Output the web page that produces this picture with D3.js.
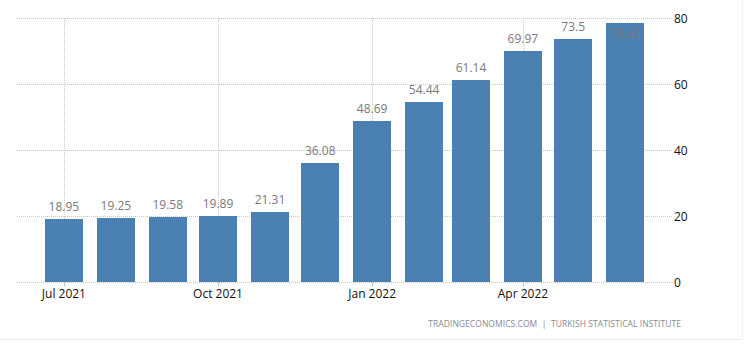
<!DOCTYPE html>
<html>
<head>
<meta charset="utf-8">
<script src="https://cdn.jsdelivr.net/npm/d3@7"></script>
<style>
  body { margin: 0; background: #fff; }
  svg { display: block; }
</style>
</head>
<body>
<svg id="chart"></svg>
<script>
// monthly values, Jul 2021 - Jun 2022
const months = ["2021-07", "2021-08", "2021-09", "2021-10", "2021-11", "2021-12",
                "2022-01", "2022-02", "2022-03", "2022-04", "2022-05", "2022-06"];
const values = [18.95, 19.25, 19.58, 19.89, 21.31, 36.08, 48.69, 54.44, 61.14, 69.97, 73.5, 78.62];
const labels = ["18.95", "19.25", "19.58", "19.89", "21.31", "36.08", "48.69", "54.44", "61.14", "69.97", "73.5", "78.62"];
const yTicks = [0, 20, 40, 60, 80];
const xTicks = ["2021-07", "2021-10", "2022-01", "2022-04"];
const source = "TRADINGECONOMICS.COM  |  TURKISH STATISTICAL INSTITUTE";

const width = 747, height = 351;
const parse = d3.timeParse("%Y-%m");
const data = months.map((m, i) => ({ date: parse(m), value: values[i], label: labels[i] }));

const svg = d3.select("#chart")
    .attr("width", width)
    .attr("height", height);

const x = d3.scaleTime()
    .domain([d3.timeDay.offset(data[0].date, -28), d3.timeDay.offset(data[data.length - 1].date, 28)])
    .range([17, 672]);

const y = d3.scaleLinear()
    .domain([0, 80])
    .range([282, 18]);

const barW = 38;
const font = "'Open Sans', 'DejaVu Sans', sans-serif";

// frame lines
svg.append("line")
    .attr("x1", 0).attr("x2", 742).attr("y1", 339.5).attr("y2", 339.5)
    .attr("stroke", "#eeeeee");
svg.append("line")
    .attr("x1", 742.5).attr("x2", 742.5).attr("y1", 0).attr("y2", 339.5)
    .attr("stroke", "#f2f2f2");

// horizontal grid
svg.append("g").selectAll("line")
    .data(yTicks)
    .enter().append("line")
    .attr("x1", 17).attr("x2", 672)
    .attr("y1", d => Math.round(y(d)) + 0.5)
    .attr("y2", d => Math.round(y(d)) + 0.5)
    .attr("stroke", "#c8c8c8")
    .attr("stroke-dasharray", "1,1");

// vertical grid
svg.append("g").selectAll("line")
    .data(xTicks.map(parse))
    .enter().append("line")
    .attr("x1", d => Math.round(x(d)) + 0.5)
    .attr("x2", d => Math.round(x(d)) + 0.5)
    .attr("y1", y(80)).attr("y2", y(0))
    .attr("stroke", "#c8c8c8")
    .attr("stroke-dasharray", "1,1");

// bars
svg.append("g").selectAll("rect")
    .data(data)
    .enter().append("rect")
    .attr("x", d => Math.round(x(d.date) - barW / 2))
    .attr("y", d => Math.round(y(d.value)))
    .attr("width", barW)
    .attr("height", d => Math.round(y(0)) - Math.round(y(d.value)))
    .attr("fill", "#4b80b2");

// x ticks
svg.append("g").selectAll("line")
    .data(xTicks.map(parse))
    .enter().append("line")
    .attr("x1", d => Math.round(x(d)) + 0.5)
    .attr("x2", d => Math.round(x(d)) + 0.5)
    .attr("y1", y(0)).attr("y2", y(0) + 5)
    .attr("stroke", "#c8c8c8");

// value labels (pushed inside the bar when they would leave the plot)
svg.append("g").selectAll("text")
    .data(data)
    .enter().append("text")
    .attr("x", d => x(d.date))
    .attr("y", d => {
        const top = y(d.value) - 8;
        return top - 10 < y(80) ? y(d.value) + 15 : top;
    })
    .attr("text-anchor", "middle")
    .style("font-family", font)
    .style("font-size", "12px")
    .style("fill", "#7a7a7a")
    .text(d => d.label);

// x axis labels
svg.append("g").selectAll("text")
    .data(xTicks.map(parse))
    .enter().append("text")
    .attr("x", d => x(d))
    .attr("y", y(0) + 16)
    .attr("text-anchor", "middle")
    .style("font-family", font)
    .style("font-size", "12px")
    .style("fill", "#111")
    .text(d => d3.timeFormat("%b %Y")(d));

// y axis labels
svg.append("g").selectAll("text")
    .data(yTicks)
    .enter().append("text")
    .attr("x", 674)
    .attr("y", d => y(d) + 4.5)
    .style("font-family", font)
    .style("font-size", "12px")
    .style("fill", "#111")
    .text(d => d);

// source
svg.append("text")
    .attr("x", 681)
    .attr("y", 327)
    .attr("text-anchor", "end")
    .style("font-family", font)
    .style("font-size", "8.5px")
    .style("letter-spacing", "0.05px")
    .style("white-space", "pre")
    .style("fill", "#8a8a96")
    .text(source);
</script>
</body>
</html>
